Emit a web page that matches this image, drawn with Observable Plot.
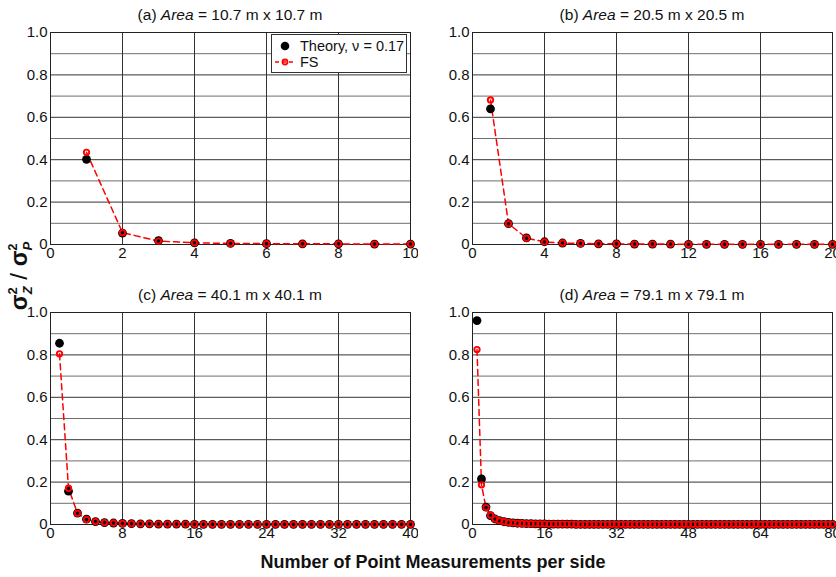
<!DOCTYPE html>
<html>
<head>
<meta charset="utf-8">
<script src="https://cdn.jsdelivr.net/npm/d3@7"></script>
<script src="https://cdn.jsdelivr.net/npm/@observablehq/plot@0.6"></script>
<style>
  html, body { margin: 0; padding: 0; background: white; }
  #wrap { position: relative; width: 836px; height: 577px; overflow: hidden; background: white;
          font-family: "Liberation Sans", Arial, Helvetica, sans-serif; }
  #wrap > svg, #wrap > div { position: absolute; }
</style>
</head>
<body>
<div id="wrap"></div>
<script>
// ---- Data ----
const panelLetters = ["(a)", "(b)", "(c)", "(d)"];
const panelAreas = ["10.7 m x 10.7 m", "20.5 m x 20.5 m", "40.1 m x 40.1 m", "79.1 m x 79.1 m"];

const xTicksA = [0, 2, 4, 6, 8, 10];
const xTicksB = [0, 4, 8, 12, 16, 20];
const xTicksC = [0, 8, 16, 24, 32, 40];
const xTicksD = [0, 16, 32, 48, 64, 80];
const yTicks = [0, 0.2, 0.4, 0.6, 0.8, 1.0];
const yTickLabels = ["0", "0.2", "0.4", "0.6", "0.8", "1.0"];
const yMinor = [0.1, 0.3, 0.5, 0.7, 0.9];

// Theory, nu = 0.17 and FS (value for n = 1, 2, 3, ... points per side)
const theoryA = [0.402, 0.054, 0.018, 0.008, 0.005, 0.004, 0.003, 0.003, 0.002, 0.002];
const fsA     = [0.435, 0.056, 0.016, 0.008, 0.005, 0.004, 0.003, 0.003, 0.002, 0.002];

const theoryB = [0.640, 0.098, 0.031, 0.013, 0.007, 0.005, 0.003, 0.003, 0.002, 0.002,
                 0.002, 0.001, 0.001, 0.001, 0.001, 0.001, 0.001, 0.001, 0.001, 0.001];
const fsB     = [0.682, 0.098, 0.030, 0.012, 0.007, 0.005, 0.003, 0.003, 0.002, 0.002,
                 0.002, 0.001, 0.001, 0.001, 0.001, 0.001, 0.001, 0.001, 0.001, 0.001];

const theoryC = [0.855, 0.157, 0.054, 0.025, 0.014, 0.009, 0.007, 0.005, 0.004, 0.003,
                 0.003, 0.002, 0.002, 0.002, 0.002, 0.001, 0.001, 0.001, 0.001, 0.001,
                 0.001, 0.001, 0.001, 0.001, 0.001, 0.001, 0.001, 0.001, 0.001, 0.001,
                 0.001, 0.001, 0.001, 0.001, 0.001, 0.001, 0.001, 0.001, 0.001, 0.001];
const fsC     = [0.805, 0.171, 0.053, 0.024, 0.014, 0.009, 0.007, 0.005, 0.004, 0.003,
                 0.003, 0.002, 0.002, 0.002, 0.002, 0.001, 0.001, 0.001, 0.001, 0.001,
                 0.001, 0.001, 0.001, 0.001, 0.001, 0.001, 0.001, 0.001, 0.001, 0.001,
                 0.001, 0.001, 0.001, 0.001, 0.001, 0.001, 0.001, 0.001, 0.001, 0.001];

const theoryD = [0.962, 0.215, 0.082, 0.042, 0.026, 0.018, 0.013, 0.010, 0.008, 0.006,
                 0.005, 0.004, 0.004, 0.003, 0.003, 0.003, 0.002, 0.002, 0.002, 0.002,
                 0.002, 0.002, 0.001, 0.001, 0.001, 0.001, 0.001, 0.001, 0.001, 0.001,
                 0.001, 0.001, 0.001, 0.001, 0.001, 0.001, 0.001, 0.001, 0.001, 0.001,
                 0.001, 0.001, 0.001, 0.001, 0.001, 0.001, 0.001, 0.001, 0.001, 0.001,
                 0.001, 0.001, 0.001, 0.001, 0.001, 0.001, 0.001, 0.001, 0.001, 0.001,
                 0.001, 0.001, 0.001, 0.001, 0.001, 0.001, 0.001, 0.001, 0.001, 0.001,
                 0.001, 0.001, 0.001, 0.001, 0.001, 0.001, 0.001, 0.001, 0.001, 0.001];
const fsD     = [0.825, 0.187, 0.080, 0.044, 0.026, 0.018, 0.013, 0.010, 0.008, 0.006,
                 0.005, 0.004, 0.004, 0.003, 0.003, 0.003, 0.002, 0.002, 0.002, 0.002,
                 0.002, 0.002, 0.001, 0.001, 0.001, 0.001, 0.001, 0.001, 0.001, 0.001,
                 0.001, 0.001, 0.001, 0.001, 0.001, 0.001, 0.001, 0.001, 0.001, 0.001,
                 0.001, 0.001, 0.001, 0.001, 0.001, 0.001, 0.001, 0.001, 0.001, 0.001,
                 0.001, 0.001, 0.001, 0.001, 0.001, 0.001, 0.001, 0.001, 0.001, 0.001,
                 0.001, 0.001, 0.001, 0.001, 0.001, 0.001, 0.001, 0.001, 0.001, 0.001,
                 0.001, 0.001, 0.001, 0.001, 0.001, 0.001, 0.001, 0.001, 0.001, 0.001];

const legendLabels = ["Theory, \u03bd = 0.17", "FS"];
const xTitle = "Number of Point Measurements per side";

// ---- Build ----
const FONT = "'Liberation Sans', Arial, Helvetica, sans-serif";
const wrap = document.getElementById("wrap");
const toRows = arr => arr.map((v, i) => ({n: i + 1, v}));

function panel(idx, theory, fs, xTicks, left, top, mL, mR) {
  const W = 418, H = 270;
  const thData = toRows(theory), fsData = toRows(fs);
  const svg = Plot.plot({
    width: W, height: H,
    marginLeft: mL, marginRight: mR, marginTop: 32, marginBottom: 26,
    x: {domain: [0, xTicks[xTicks.length - 1]]},
    y: {domain: [0, 1]},
    style: {fontFamily: FONT, fontSize: "15px", background: "white", overflow: "visible", color: "#111"},
    marks: [
      Plot.ruleY(yMinor, {stroke: "#6e6e6e", strokeWidth: 1}),
      Plot.ruleY(yTicks, {stroke: "#333", strokeWidth: 1}),
      Plot.ruleX(xTicks, {stroke: "#333", strokeWidth: 1}),
      Plot.frame({stroke: "#222"}),
      Plot.axisX(xTicks, {tickSize: 0, tickPadding: 3, label: null, tickFormat: d => String(d), fontSize: 15}),
      Plot.axisY(yTicks, {tickSize: 0, tickPadding: 3, label: null,
                          tickFormat: d => yTickLabels[yTicks.indexOf(d)], fontSize: 15}),
      Plot.line(fsData, {x: "n", y: "v", stroke: "red", strokeWidth: 1.5, strokeDasharray: "6,4"}),
      Plot.dot(thData, {x: "n", y: "v", r: 4.4, fill: "black"}),
      Plot.dot(fsData, {x: "n", y: "v", r: 2.7, stroke: "red", strokeWidth: 1.9})
    ]
  });
  svg.style.left = left + "px";
  svg.style.top = top + "px";
  const t = d3.select(svg).append("text")
    .attr("x", (mL + W - mR) / 2).attr("y", 20)
    .attr("text-anchor", "middle")
    .style("font-size", "15.5px").style("font-family", FONT).attr("fill", "#111");
  t.append("tspan").text(panelLetters[idx] + " ");
  t.append("tspan").style("font-style", "italic").text("Area");
  t.append("tspan").text(" = " + panelAreas[idx]);
  wrap.appendChild(svg);
  return svg;
}

panel(0, theoryA, fsA, xTicksA, 0, 0, 50, 8);
panel(1, theoryB, fsB, xTicksB, 418, 0, 54, 4);
panel(2, theoryC, fsC, xTicksC, 0, 280, 50, 8);
panel(3, theoryD, fsD, xTicksD, 418, 280, 54, 4);

// Legend (panel a)
const leg = d3.select(wrap).append("svg")
  .attr("width", 136).attr("height", 39)
  .style("left", "271px").style("top", "34px")
  .style("font-family", FONT);
leg.append("rect").attr("x", 0.5).attr("y", 0.5).attr("width", 135).attr("height", 38)
  .attr("fill", "white").attr("stroke", "#333");
leg.append("circle").attr("cx", 14).attr("cy", 12).attr("r", 4.3).attr("fill", "black");
leg.append("text").attr("x", 29).attr("y", 17).style("font-size", "14.5px").attr("fill", "#111").text(legendLabels[0]);
leg.append("line").attr("x1", 4).attr("x2", 24).attr("y1", 28).attr("y2", 28)
  .attr("stroke", "red").attr("stroke-width", 1.5).attr("stroke-dasharray", "4,3");
leg.append("circle").attr("cx", 14).attr("cy", 28).attr("r", 2.5).attr("fill", "none")
  .attr("stroke", "red").attr("stroke-width", 1.8);
leg.append("text").attr("x", 29).attr("y", 33).style("font-size", "14.5px").attr("fill", "#111").text(legendLabels[1]);

// Y axis label: sigma_Z^2 / sigma_P^2 (rotated)
const ylab = d3.select(wrap).append("svg")
  .attr("width", 40).attr("height", 120)
  .style("left", "0px").style("top", "216px");
const yt = ylab.append("text")
  .attr("transform", "translate(27,60) rotate(-90)")
  .attr("text-anchor", "middle")
  .style("font-family", FONT).style("font-weight", "bold").style("font-size", "23px").attr("fill", "#111");
yt.append("tspan").text("\u03c3");
yt.append("tspan").attr("dy", -10).style("font-size", "13px").text("2");
yt.append("tspan").attr("dx", -7).attr("dy", 15).style("font-size", "13px").style("font-style", "italic").text("Z");
yt.append("tspan").attr("dy", -5).style("font-weight", "normal").style("font-size", "24px").text(" / ");
yt.append("tspan").text("\u03c3");
yt.append("tspan").attr("dy", -10).style("font-size", "13px").text("2");
yt.append("tspan").attr("dx", -7).attr("dy", 15).style("font-size", "13px").style("font-style", "italic").text("P");

// X axis title
const xt = d3.select(wrap).append("svg")
  .attr("width", 836).attr("height", 30)
  .style("left", "0px").style("top", "547px");
xt.append("text").attr("x", 433).attr("y", 21).attr("text-anchor", "middle")
  .style("font-family", FONT).style("font-weight", "bold").style("font-size", "18px").attr("fill", "#111")
  .text(xTitle);
</script>
</body>
</html>
